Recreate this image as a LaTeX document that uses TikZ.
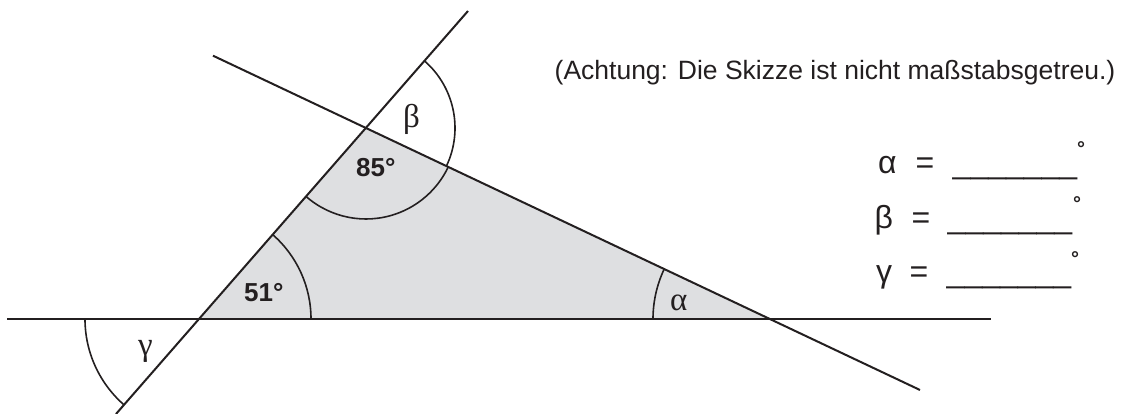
\documentclass[tikz,border=0pt]{standalone}
\usepackage{fontspec}
\setmainfont{Liberation Serif}
\newfontfamily\arialfont{Liberation Sans}
\definecolor{trifill}{RGB}{222,223,225}
\definecolor{ink}{RGB}{35,31,32}
\begin{document}
\begin{tikzpicture}[x=1pt,y=1pt,
  geoline/.style={line width=2pt, ink},
  anglearc/.style={line width=1.6pt, ink},
  greeklbl/.style={inner sep=0pt, anchor=base west, text=ink, font=\fontsize{33}{33}\selectfont},
  anglelbl/.style={inner sep=0pt, anchor=base west, text=ink, font=\arialfont\bfseries\fontsize{26}{26}\selectfont},
  eqtxt/.style={inner sep=0pt, anchor=base west, text=ink, font=\arialfont\fontsize{32}{32}\selectfont},
  degtxt/.style={inner sep=0pt, anchor=north, text=ink, font=\arialfont\bfseries\fontsize{20}{20}\selectfont},
  notetxt/.style={inner sep=0pt, anchor=base, text=ink, font=\arialfont\fontsize{26.5}{30}\selectfont}]
\useasboundingbox (0,0) rectangle (1125,414);
% vertices
\coordinate (A) at (199,95);
\coordinate (B) at (366,286);
\coordinate (C) at (770,95);
% line ends
\coordinate (L1s) at (116,0);
\coordinate (L1e) at (468,403);
\coordinate (L2s) at (213,358.3);
\coordinate (L2e) at (920,24);
\coordinate (Hs) at (7,95);
\coordinate (He) at (991,95);
% triangle
\fill[trifill] (A) -- (B) -- (C) -- cycle;
% lines
\draw[geoline] (Hs) -- (He);
\draw[geoline] (L1s) -- (L1e);
\draw[geoline] (L2s) -- (L2e);
% angle arcs
\draw[anglearc] ([shift={(0:112pt)}]A) arc[start angle=0, end angle=48.84, radius=112pt];
\draw[anglearc] ([shift={(180:114pt)}]A) arc[start angle=180, end angle=228.84, radius=114pt];
\draw[anglearc] ([shift={(228.84:91pt)}]B) arc[start angle=228.84, end angle=334.7, radius=91pt];
\draw[anglearc] ([shift={(-25.3:89pt)}]B) arc[start angle=-25.3, end angle=48.84, radius=89pt];
\draw[anglearc] ([shift={(154.7:117pt)}]C) arc[start angle=154.7, end angle=180, radius=117pt];
% angle labels
\node[greeklbl] (betalbl) at (403,286) {β};
\node[greeklbl] (gammalbl) at (138,58) {γ};
\node[greeklbl] (alphalbl) at (670,103) {α};
\node[anglelbl] (lbl85) at (356,237) {85°};
\node[anglelbl] (lbl51) at (244,112) {51°};
% note
\node[notetxt] (note) at (835,334) {(Achtung: Die Skizze ist nicht maßstabsgetreu.)};
% answer rows
\node[eqtxt] (eqa) at (878,240) {α};
\node[eqtxt] (eqaeq) at (915.5,240) {=};
\node[eqtxt] (eqablank) at (952.5,240) {\_\_\_\_\_\_\_};
\node[degtxt] (eqadeg) at (1081,272.3) {°};
\node[eqtxt] (eqb) at (874.5,185) {β};
\node[eqtxt] (eqbeq) at (911.5,185) {=};
\node[eqtxt] (eqbblank) at (947.5,185) {\_\_\_\_\_\_\_};
\node[degtxt] (eqbdeg) at (1077,217.3) {°};
\node[eqtxt] (eqg) at (876,131) {γ};
\node[eqtxt] (eqgeq) at (909.5,131) {=};
\node[eqtxt] (eqgblank) at (946.5,131) {\_\_\_\_\_\_\_};
\node[degtxt] (eqgdeg) at (1075,162.3) {°};
\end{tikzpicture}
\end{document}
